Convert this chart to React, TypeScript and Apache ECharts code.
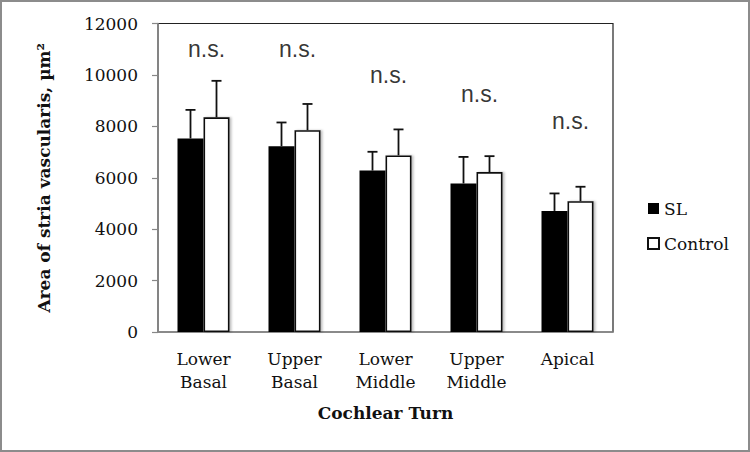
import React, { useEffect, useRef } from "react";
import * as echarts from "echarts";

const categories = ["Lower\nBasal", "Upper\nBasal", "Lower\nMiddle", "Upper\nMiddle", "Apical"];
const slMeans = [7530, 7230, 6280, 5780, 4710];
const slUpper = [8640, 8150, 7010, 6810, 5390];
const controlMeans = [8350, 7850, 6870, 6220, 5090];
const controlUpper = [9770, 8870, 7880, 6840, 5650];
const nsLevels = [11020, 11020, 9990, 9250, 8220];
const yTicks = [0, 2000, 4000, 6000, 8000, 10000, 12000];

const SERIF = "DejaVu Serif";
const BAR_W = 26;

function errorSeries(name: string, means: number[], uppers: number[], offset: number) {
  return {
    type: "custom",
    name: name + " err",
    silent: true,
    z: 1,
    renderItem: (params: any, api: any) => {
      const c = api.value(0);
      const top = api.coord([c, api.value(2)]);
      const base = api.coord([c, api.value(1)]);
      const x = top[0] + offset;
      const style = { stroke: "#111", lineWidth: 1.8 };
      return {
        type: "group",
        children: [
          { type: "line", shape: { x1: x, y1: base[1], x2: x, y2: top[1] }, style },
          { type: "line", shape: { x1: x - 5, y1: top[1], x2: x + 5, y2: top[1] }, style },
        ],
      };
    },
    data: means.map((m, i) => [i, m, uppers[i]]),
  };
}

export default function App() {
  const ref = useRef<HTMLDivElement>(null);
  useEffect(() => {
    if (!ref.current) return;
    const chart = echarts.init(ref.current, null, { renderer: "svg" });
    chart.setOption({
      animation: false,
      backgroundColor: "#fff",
      textStyle: { fontFamily: SERIF },
      grid: {
        left: 158,
        right: 137,
        top: 23.5,
        bottom: 120,
        show: true,
        borderColor: "#222",
        borderWidth: 1.2,
        backgroundColor: "transparent",
      },
      legend: {
        orient: "vertical",
        left: 642,
        top: 195,
        itemWidth: 11,
        itemHeight: 11,
        itemGap: 18,
        icon: "rect",
        data: ["SL", "Control"],
        formatter: "{s|{name}}",
        textStyle: {
          fontFamily: SERIF,
          fontSize: 17,
          color: "#111",
          rich: { s: { fontFamily: SERIF, fontSize: 17, color: "#111" } },
        },
      },
      xAxis: {
        type: "category",
        data: categories,
        name: "Cochlear Turn",
        nameLocation: "middle",
        nameGap: 72,
        nameTextStyle: { fontFamily: SERIF, fontSize: 17, fontWeight: "bold", color: "#111" },
        axisLine: { lineStyle: { color: "#888", width: 1.5 } },
        axisTick: { show: false },
        axisLabel: {
          fontFamily: SERIF,
          fontSize: 17,
          color: "#111",
          lineHeight: 23,
          margin: 15,
        },
      },
      yAxis: {
        type: "value",
        min: 0,
        max: 12000,
        interval: 2000,
        name: "Area of stria vascularis, µm²",
        nameLocation: "middle",
        nameGap: 106,
        nameTextStyle: { fontFamily: SERIF, fontSize: 17, fontWeight: "bold", color: "#111" },
        splitLine: { show: false },
        axisLine: { show: true, lineStyle: { color: "#888", width: 1.5 } },
        axisTick: { show: true, inside: false, length: 6, lineStyle: { color: "#888", width: 1.2 } },
        axisLabel: {
          fontFamily: SERIF,
          fontSize: 17,
          color: "#111",
          margin: 20,
          formatter: (v: number) => (yTicks.includes(v) ? String(v) : ""),
        },
      },
      series: [
        {
          name: "SL",
          type: "bar",
          data: slMeans,
          barWidth: BAR_W,
          barGap: "0%",
          itemStyle: { color: "#000" },
          z: 2,
        },
        {
          name: "Control",
          type: "bar",
          data: controlMeans,
          barWidth: BAR_W,
          barGap: "0%",
          itemStyle: {
            color: "#fff",
            borderColor: "#111",
            borderWidth: 1.6,
            shadowColor: "rgba(0,0,0,0.25)",
            shadowBlur: 2,
            shadowOffsetX: 2,
            shadowOffsetY: 0,
          },
          z: 2,
        },
        errorSeries("SL", slMeans, slUpper, -BAR_W / 2),
        errorSeries("Control", controlMeans, controlUpper, BAR_W / 2),
        {
          type: "scatter",
          name: "ns",
          silent: true,
          symbolSize: 0,
          data: nsLevels,
          label: {
            show: true,
            position: "inside",
            offset: [3, 0],
            formatter: "n.s.",
            fontFamily: "Liberation Sans",
            fontSize: 23,
            color: "#000",
          },
        },
      ],
      graphic: [
        {
          type: "rect",
          shape: { x: 1, y: 1, width: 748, height: 450 },
          style: { fill: "none", stroke: "#8c8c8c", lineWidth: 2 },
          silent: true,
          z: 100,
        },
      ],
    });
    return () => chart.dispose();
  }, []);
  return (
    <div
      ref={ref}
      style={{ position: "absolute", left: 0, top: 0, width: 750, height: 452 }}
    />
  );
}
